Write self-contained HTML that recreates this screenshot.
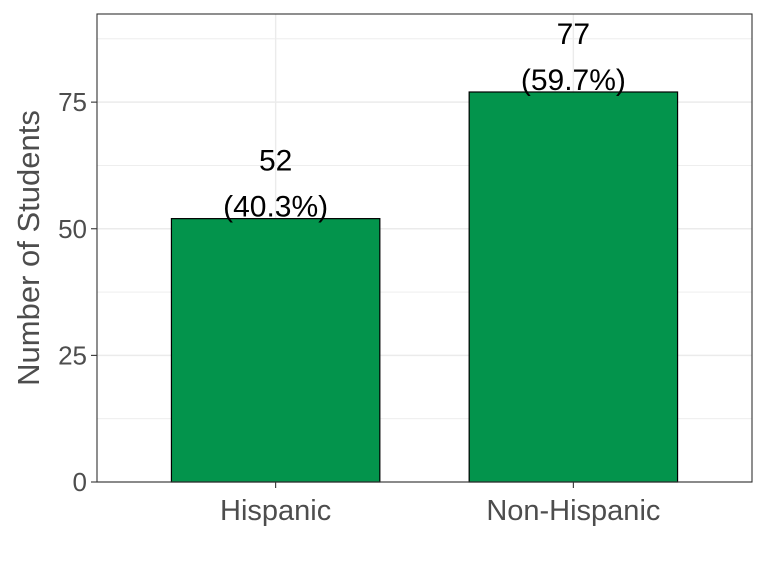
<!DOCTYPE html>
<html><head><meta charset="utf-8"><style>
html,body{margin:0;padding:0;background:#fff;}
svg{display:block;font-family:"Liberation Sans",Arial,sans-serif;}
</style></head><body>
<svg id="chart" width="768" height="576" viewBox="0 0 768 576">
<rect x="0" y="0" width="768" height="576" fill="#fff"/>
<g id="grid"></g>
<g id="bars"></g>
<g id="labels"></g>
<rect x="97" y="14" width="655" height="468" fill="none" stroke="#333" stroke-width="1.1"/>
<g id="axes"></g>
<text x="39" y="248" transform="rotate(-90 39 248)" text-anchor="middle" font-size="31" fill="#4d4d4d">Number of Students</text>
</svg>
<script>
const categories = ["Hispanic", "Non-Hispanic"];
const counts = [52, 77];
const percents = ["40.3%", "59.7%"];
const yTicks = [0, 25, 50, 75];
const yMinor = [12.5, 37.5, 62.5, 87.5];

const NS = "http://www.w3.org/2000/svg";
const L = 97, R = 752, T = 14, B = 482;
const yMax = 92.4;
const y = v => B - v / yMax * (B - T);
const step = (R - L) / (categories.length + 0.2);
const x = i => L + step * (0.6 + i);
const bw = step * 0.7;

function mk(tag, attrs, parent, text) {
  const e = document.createElementNS(NS, tag);
  for (const k in attrs) e.setAttribute(k, attrs[k]);
  if (text !== undefined) e.textContent = text;
  parent.appendChild(e);
  return e;
}
const grid = document.getElementById("grid");
const bars = document.getElementById("bars");
const labels = document.getElementById("labels");
const axes = document.getElementById("axes");

yMinor.forEach(v => {
  const l = mk("line", {x1: L, x2: R, y1: y(v), y2: y(v), stroke: "#ebebeb", "stroke-width": 0.8}, grid);
  
  
});
yTicks.forEach(v => {
  const l = mk("line", {x1: L, x2: R, y1: y(v), y2: y(v), stroke: "#ebebeb", "stroke-width": 1.4}, grid);
  
  
  const t = mk("line", {x1: L - 6, x2: L, y1: y(v), y2: y(v), stroke: "#333", "stroke-width": 1.1}, axes);
  
  
  const tx = mk("text", {x: L - 10, y: y(v) + 9, "text-anchor": "end", "font-size": 26, fill: "#4d4d4d"}, axes, String(v));
  
  
});
categories.forEach((c, i) => {
  const g = mk("line", {x1: x(i), x2: x(i), y1: T, y2: B, stroke: "#ebebeb", "stroke-width": 1.4}, grid);
  
  
  const r = mk("rect", {x: x(i) - bw / 2, y: y(counts[i]), width: bw, height: B - y(counts[i]), fill: "#03944c", stroke: "#000", "stroke-width": 1.2}, bars);
  
  
  const t1 = mk("text", {x: x(i), y: y(counts[i]) - 48, "text-anchor": "middle", "font-size": 30, fill: "#000"}, labels, String(counts[i]));
  
  
  const t2 = mk("text", {x: x(i), y: y(counts[i]) - 2, "text-anchor": "middle", "font-size": 30, fill: "#000"}, labels, "(" + percents[i] + ")");
  
  
  const tk = mk("line", {x1: x(i), x2: x(i), y1: B, y2: B + 6, stroke: "#333", "stroke-width": 1.1}, axes);
  
  
  const xl = mk("text", {x: x(i), y: B + 38, "text-anchor": "middle", "font-size": 29, fill: "#4d4d4d"}, axes, c);
  
  
});
</script>
</body></html>
